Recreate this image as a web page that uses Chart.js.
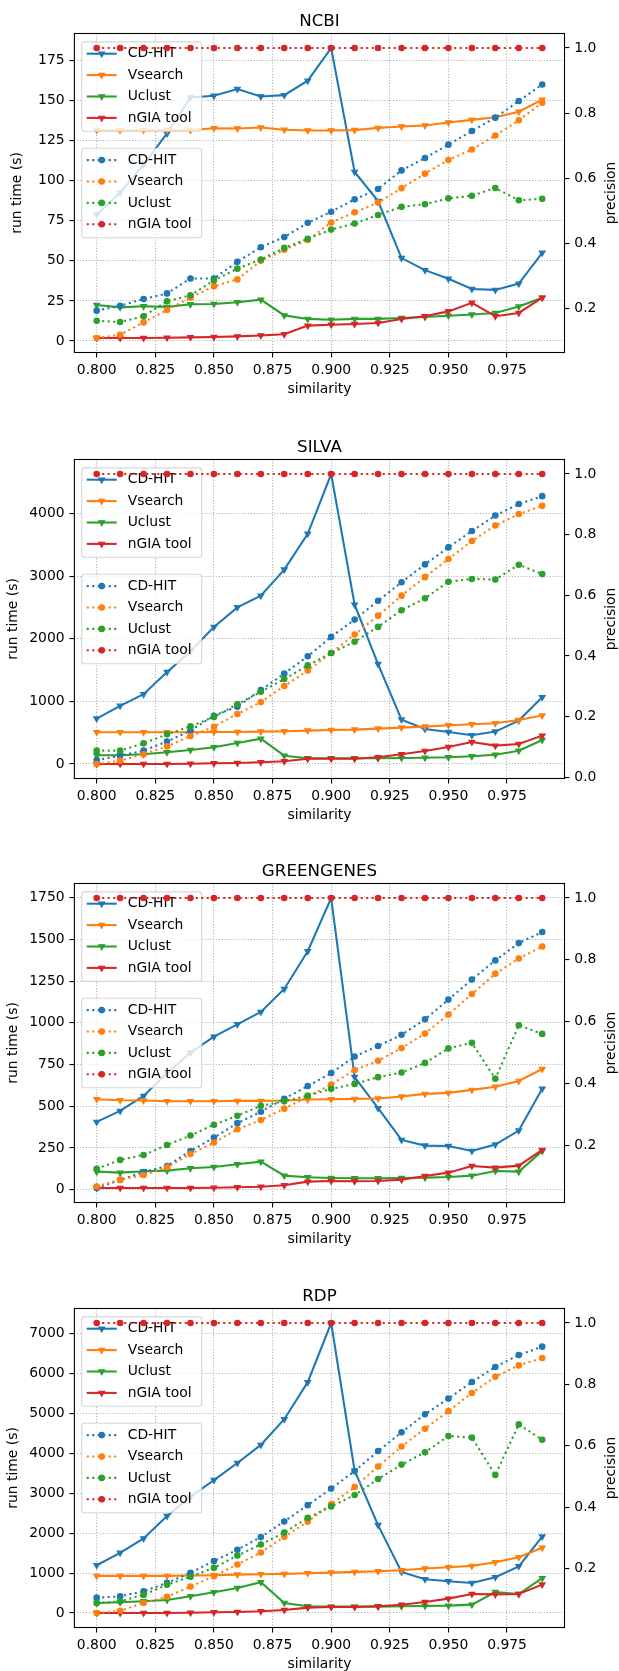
<!DOCTYPE html>
<html>
<head>
<meta charset="utf-8">
<script src="https://cdn.jsdelivr.net/npm/chart.js@4.4.1/dist/chart.umd.min.js"></script>
<style>
  body { margin: 0; background: #fff; }
  #fig { position: relative; width: 619px; height: 1671px; overflow: hidden; background: #fff; }
  #fig canvas { position: absolute; left: 0; }
</style>
</head>
<body>
<div id="fig">
  <canvas id="ncbi" width="619" height="400" style="top:0px"></canvas>
  <canvas id="silva" width="619" height="400" style="top:426px"></canvas>
  <canvas id="greengenes" width="619" height="400" style="top:850px"></canvas>
  <canvas id="rdp" width="619" height="400" style="top:1275px"></canvas>
</div>
<script>
// valores
const similarity = [0.80, 0.81, 0.82, 0.83, 0.84, 0.85, 0.86, 0.87, 0.88, 0.89,
                    0.90, 0.91, 0.92, 0.93, 0.94, 0.95, 0.96, 0.97, 0.98, 0.99];
const xTicks = [0.800, 0.825, 0.850, 0.875, 0.900, 0.925, 0.950, 0.975];
const tools = ['CD-HIT', 'Vsearch', 'Uclust', 'nGIA tool'];

// NCBI
const ncbiCdhitTime = [78.8, 92.5, 110, 129.4, 151.9, 152.9, 157.1, 152.5, 153.3, 162.3, 182.7, 105.4, 87.3, 51.7, 44.2, 38.8, 32.5, 31.9, 35.8, 55];
const ncbiVsearchTime = [131.5, 131.5, 131.5, 131.5, 131.5, 132.7, 132.5, 133.1, 131.7, 131.3, 131.3, 131.5, 132.9, 133.8, 134.4, 136.3, 137.9, 139.5, 143, 150.5];
const ncbiUclustTime = [22.5, 21, 21.7, 21.3, 22.9, 23.1, 24.2, 25.8, 16, 13.8, 13.3, 13.8, 13.8, 14.4, 15, 15.8, 16.5, 17.5, 21.5, 27];
const ncbiNgiaTime = [1.9, 1.9, 1.9, 2.1, 2.3, 2.5, 2.9, 3.5, 4.2, 9.6, 10.2, 10.6, 11.3, 13.8, 15.4, 18.5, 23.8, 15.5, 17.5, 27];
const ncbiCdhitPrec = [0.193, 0.208, 0.229, 0.246, 0.292, 0.292, 0.343, 0.388, 0.419, 0.463, 0.497, 0.535, 0.567, 0.624, 0.662, 0.703, 0.745, 0.786, 0.837, 0.888];
const ncbiVsearchPrec = [0.109, 0.119, 0.157, 0.195, 0.233, 0.268, 0.289, 0.346, 0.380, 0.410, 0.464, 0.495, 0.525, 0.569, 0.614, 0.656, 0.688, 0.731, 0.778, 0.832];
const ncbiUclustPrec = [0.162, 0.158, 0.176, 0.222, 0.240, 0.286, 0.322, 0.350, 0.386, 0.414, 0.442, 0.461, 0.487, 0.512, 0.520, 0.538, 0.546, 0.570, 0.532, 0.537];
const ncbiNgiaPrec = [1, 1, 1, 1, 1, 1, 1, 1, 1, 1, 1, 1, 1, 1, 1, 1, 1, 1, 1, 1];
const ncbiTimeTicks = [0, 25, 50, 75, 100, 125, 150, 175];
const ncbiPrecTicks = [0.2, 0.4, 0.6, 0.8, 1.0];

// SILVA
const silvaCdhitTime = [725, 928, 1115, 1467, 1800, 2187, 2501, 2688, 3104, 3675, 4630, 2544, 1595, 709, 560, 512, 459, 517, 693, 1066];
const silvaVsearchTime = [507, 507, 507, 507, 507, 512, 512, 517, 523, 533, 544, 549, 565, 581, 597, 619, 635, 650, 704, 773];
const silvaUclustTime = [139, 139, 155, 187, 224, 267, 336, 405, 133, 91, 91, 91, 91, 96, 101, 107, 123, 149, 213, 384];
const silvaNgiaTime = [0, 0, 0, 0, 5, 11, 16, 27, 43, 85, 85, 85, 107, 155, 208, 272, 352, 293, 320, 453];
const silvaCdhitPrec = [0.057, 0.071, 0.088, 0.118, 0.154, 0.203, 0.233, 0.288, 0.342, 0.399, 0.463, 0.520, 0.582, 0.643, 0.702, 0.758, 0.812, 0.863, 0.901, 0.927];
const silvaVsearchPrec = [0.044, 0.055, 0.076, 0.102, 0.136, 0.167, 0.209, 0.248, 0.301, 0.352, 0.410, 0.471, 0.533, 0.599, 0.660, 0.720, 0.779, 0.830, 0.868, 0.895];
const silvaUclustPrec = [0.088, 0.088, 0.112, 0.142, 0.168, 0.199, 0.241, 0.282, 0.324, 0.369, 0.410, 0.447, 0.496, 0.551, 0.590, 0.645, 0.654, 0.652, 0.701, 0.670];
const silvaNgiaPrec = [1, 1, 1, 1, 1, 1, 1, 1, 1, 1, 1, 1, 1, 1, 1, 1, 1, 1, 1, 1];
const silvaTimeTicks = [0, 1000, 2000, 3000, 4000];
const silvaPrecTicks = [0.0, 0.2, 0.4, 0.6, 0.8, 1.0];

// GREENGENES
const ggCdhitTime = [406, 472, 562, 699, 821, 917, 991, 1065, 1203, 1429, 1748, 675, 488, 298, 264, 262, 232, 270, 354, 605];
const ggVsearchTime = [542, 536, 534, 530, 530, 530, 532, 532, 534, 540, 542, 544, 546, 558, 574, 580, 598, 617, 651, 723];
const ggUclustTime = [108, 102, 110, 114, 128, 136, 152, 168, 84, 74, 70, 68, 68, 70, 72, 76, 84, 112, 108, 232];
const ggNgiaTime = [10, 10, 10, 10, 10, 12, 14, 18, 26, 48, 52, 50, 52, 60, 82, 102, 142, 132, 144, 238];
const ggCdhitPrec = [0.061, 0.087, 0.113, 0.132, 0.181, 0.224, 0.271, 0.308, 0.350, 0.391, 0.433, 0.487, 0.521, 0.557, 0.607, 0.671, 0.736, 0.798, 0.854, 0.890];
const ggVsearchPrec = [0.066, 0.088, 0.103, 0.128, 0.171, 0.208, 0.251, 0.281, 0.318, 0.357, 0.396, 0.443, 0.473, 0.514, 0.561, 0.623, 0.689, 0.755, 0.804, 0.843];
const ggUclustPrec = [0.123, 0.152, 0.168, 0.200, 0.231, 0.266, 0.295, 0.327, 0.342, 0.360, 0.382, 0.398, 0.420, 0.435, 0.466, 0.513, 0.531, 0.415, 0.588, 0.560];
const ggNgiaPrec = [1, 1, 1, 1, 1, 1, 1, 1, 1, 1, 1, 1, 1, 1, 1, 1, 1, 1, 1, 1];
const ggTimeTicks = [0, 250, 500, 750, 1000, 1250, 1500, 1750];
const ggPrecTicks = [0.2, 0.4, 0.6, 0.8, 1.0];

// RDP
const rdpCdhitTime = [1198, 1508, 1868, 2429, 2915, 3333, 3760, 4213, 4858, 5787, 7270, 3568, 2203, 1030, 846, 796, 754, 898, 1169, 1915];
const rdpVsearchTime = [930, 930, 930, 930, 938, 946, 963, 972, 980, 997, 1013, 1030, 1047, 1072, 1114, 1147, 1181, 1271, 1398, 1636];
const rdpUclustTime = [251, 268, 293, 327, 419, 519, 628, 771, 251, 168, 159, 159, 159, 168, 176, 184, 209, 525, 475, 873];
const rdpNgiaTime = [0, 0, 0, 0, 8, 17, 25, 42, 75, 134, 151, 151, 168, 209, 276, 360, 477, 466, 475, 712];
const rdpCdhitPrec = [0.106, 0.110, 0.127, 0.154, 0.187, 0.225, 0.262, 0.303, 0.354, 0.407, 0.461, 0.518, 0.583, 0.644, 0.703, 0.754, 0.808, 0.857, 0.896, 0.923];
const rdpVsearchPrec = [0.056, 0.063, 0.089, 0.109, 0.142, 0.176, 0.214, 0.253, 0.304, 0.353, 0.410, 0.466, 0.533, 0.598, 0.656, 0.713, 0.772, 0.825, 0.862, 0.886];
const rdpUclustPrec = [0.088, 0.094, 0.115, 0.148, 0.174, 0.203, 0.243, 0.279, 0.318, 0.366, 0.403, 0.440, 0.492, 0.539, 0.579, 0.632, 0.627, 0.505, 0.670, 0.620];
const rdpNgiaPrec = [1, 1, 1, 1, 1, 1, 1, 1, 1, 1, 1, 1, 1, 1, 1, 1, 1, 1, 1, 1];
const rdpTimeTicks = [0, 1000, 2000, 3000, 4000, 5000, 6000, 7000];
const rdpPrecTicks = [0.2, 0.4, 0.6, 0.8, 1.0];

// estilo (cores do matplotlib)
const cores = ['#1f77b4', '#ff7f0e', '#2ca02c', '#d62728'];
const FONTE = "'DejaVu Sans', sans-serif";
const LW = 2.08;
const PONTILHADO = [2.1, 3.4];
const RAIO_TRI = 3.3;
const RAIO_CIRC = 2.7;

Chart.defaults.font.family = FONTE;
Chart.defaults.font.size = 13.9;
Chart.defaults.color = '#000';

// margem de 5% como o autoscale do matplotlib
function limites(series) {
    const todos = [].concat(...series);
    const lo = Math.min(...todos), hi = Math.max(...todos);
    const pad = (hi - lo) * 0.05;
    return { min: lo - pad, max: hi + pad };
}

function desenharMarcador(ctx, tipo, cor, x, y) {
    ctx.fillStyle = cor;
    ctx.strokeStyle = cor;
    ctx.lineWidth = 1.2;
    ctx.beginPath();
    if (tipo === 'triangle') {
        const r = RAIO_TRI;
        ctx.moveTo(x, y + r);
        ctx.lineTo(x - r * 0.866, y - r / 2);
        ctx.lineTo(x + r * 0.866, y - r / 2);
        ctx.closePath();
    } else {
        ctx.arc(x, y, RAIO_CIRC, 0, Math.PI * 2);
    }
    ctx.fill();
    ctx.stroke();
}

function caminhoArredondado(ctx, x, y, w, h, r) {
    ctx.beginPath();
    ctx.moveTo(x + r, y);
    ctx.lineTo(x + w - r, y);
    ctx.arcTo(x + w, y, x + w, y + r, r);
    ctx.lineTo(x + w, y + h - r);
    ctx.arcTo(x + w, y + h, x + w - r, y + h, r);
    ctx.lineTo(x + r, y + h);
    ctx.arcTo(x, y + h, x, y + h - r, r);
    ctx.lineTo(x, y + r);
    ctx.arcTo(x, y, x + r, y, r);
    ctx.closePath();
}

// legenda desenhada dentro da área do gráfico
function desenharLegenda(chart, topo, pontilhada) {
    const ctx = chart.ctx;
    const area = chart.chartArea;
    const esq = area.left + 7.3;
    const larg = 120, alt = 89.4;
    ctx.save();
    caminhoArredondado(ctx, esq, topo, larg, alt, 2.8);
    ctx.fillStyle = 'rgba(255,255,255,0.8)';
    ctx.fill();
    ctx.lineWidth = 1.1;
    ctx.strokeStyle = 'rgba(204,204,204,0.8)';
    ctx.stroke();
    for (let k = 0; k < tools.length; k++) {
        const y = topo + 11.8 + k * 21.4;
        ctx.strokeStyle = cores[k];
        ctx.lineWidth = LW;
        ctx.setLineDash(pontilhada ? PONTILHADO : []);
        ctx.beginPath();
        ctx.moveTo(esq + 5, y);
        ctx.lineTo(esq + 35, y);
        ctx.stroke();
        ctx.setLineDash([]);
        desenharMarcador(ctx, pontilhada ? 'circle' : 'triangle', cores[k], esq + 20, y);
        ctx.fillStyle = '#000';
        ctx.font = '13.9px ' + FONTE;
        ctx.textAlign = 'left';
        ctx.textBaseline = 'middle';
        ctx.fillText(tools[k], esq + 46, y);
    }
    ctx.restore();
}

function plugDecoracao(titulo) {
    return {
        id: 'decoracao',
        afterDatasetDraw(chart, args) {
            // a primeira legenda fica entre as linhas de tempo e as de precisão
            if (args.index === 3) {
                desenharLegenda(chart, chart.chartArea.top + 8.4, false);
            }
        },
        afterDatasetsDraw(chart) {
            const a = chart.chartArea;
            desenharLegenda(chart, (a.top + a.bottom) / 2 - 44.7, true);
        },
        afterDraw(chart) {
            const ctx = chart.ctx;
            const a = chart.chartArea;
            ctx.save();
            ctx.strokeStyle = '#000';
            ctx.lineWidth = 1.1;
            ctx.strokeRect(a.left, a.top, a.right - a.left, a.bottom - a.top);
            ctx.fillStyle = '#000';
            ctx.font = '16.7px ' + FONTE;
            ctx.textAlign = 'center';
            ctx.textBaseline = 'alphabetic';
            ctx.fillText(titulo, (a.left + a.right) / 2, a.top - 7.3);
            ctx.font = '13.9px ' + FONTE;
            ctx.textBaseline = 'middle';
            ctx.translate(611.5, (a.top + a.bottom) / 2);
            ctx.rotate(-Math.PI / 2);
            ctx.fillText('precision', 0, 0);
            ctx.restore();
        }
    };
}

function plotarPainel(idCanvas, titulo, tempos, precisoes, ticksTempo, ticksPrec, padLabel) {
    const limX = limites([similarity]);
    const limT = limites(tempos);
    const limP = limites(precisoes);

    let datasets = [];
    for (let k = 0; k < tempos.length; k++) {
        datasets.push({
            label: tools[k],
            data: similarity.map((x, i) => ({ x: x, y: tempos[k][i] })),
            yAxisID: 'yTempo',
            borderColor: cores[k],
            backgroundColor: cores[k],
            borderWidth: LW,
            pointStyle: 'triangle',
            rotation: 180,
            pointRadius: RAIO_TRI,
            pointBorderWidth: 1.2,
            order: 8 - k
        });
    }
    for (let k = 0; k < precisoes.length; k++) {
        datasets.push({
            label: tools[k],
            data: similarity.map((x, i) => ({ x: x, y: precisoes[k][i] })),
            yAxisID: 'yPrec',
            borderColor: cores[k],
            backgroundColor: cores[k],
            borderWidth: LW,
            borderDash: PONTILHADO,
            pointStyle: 'circle',
            pointRadius: RAIO_CIRC,
            pointBorderWidth: 1.2,
            order: 4 - k
        });
    }

    const grade = {
        color: '#b0b0b0',
        lineWidth: 1.1,
        tickColor: '#000',
        tickLength: 4.9,
        tickWidth: 1.1,
        tickBorderDash: []
    };
    const borda = { display: false, dash: [1.1, 1.8] };

    new Chart(document.getElementById(idCanvas), {
        type: 'line',
        data: { datasets: datasets },
        options: {
            responsive: false,
            animation: false,
            events: [],
            layout: { padding: { top: 33.5, left: 0, right: 0, bottom: 0 } },
            plugins: { legend: { display: false }, tooltip: { enabled: false } },
            scales: {
                x: {
                    type: 'linear',
                    min: limX.min,
                    max: limX.max,
                    afterBuildTicks: s => { s.ticks = xTicks.map(v => ({ value: v })); },
                    afterFit: s => { s.height = 47.5; },
                    ticks: { callback: v => v.toFixed(3), autoSkip: false, maxRotation: 0, padding: 4.9 },
                    grid: grade,
                    border: borda,
                    title: { display: true, text: 'similarity', font: { size: 13.9, lineHeight: 1 }, padding: { top: 0, bottom: 3.75 } }
                },
                yTempo: {
                    type: 'linear',
                    position: 'left',
                    min: limT.min,
                    max: limT.max,
                    afterBuildTicks: s => { s.ticks = ticksTempo.map(v => ({ value: v })); },
                    afterFit: s => { s.width = 74.4; },
                    ticks: { callback: v => String(v), padding: 4.9 },
                    grid: grade,
                    border: borda,
                    title: { display: true, text: 'run time (s)', font: { size: 13.9, lineHeight: 1 }, padding: { top: padLabel, bottom: 0 } }
                },
                yPrec: {
                    type: 'linear',
                    position: 'right',
                    min: limP.min,
                    max: limP.max,
                    afterBuildTicks: s => { s.ticks = ticksPrec.map(v => ({ value: v })); },
                    afterFit: s => { s.width = 54.5; },
                    ticks: { callback: v => v.toFixed(1), padding: 4.9 },
                    grid: Object.assign({}, grade, { drawOnChartArea: false, color: '#000' }),
                    border: { display: false }
                }
            }
        },
        plugins: [plugDecoracao(titulo)]
    });
}

plotarPainel('ncbi', 'NCBI',
    [ncbiCdhitTime, ncbiVsearchTime, ncbiUclustTime, ncbiNgiaTime],
    [ncbiCdhitPrec, ncbiVsearchPrec, ncbiUclustPrec, ncbiNgiaPrec],
    ncbiTimeTicks, ncbiPrecTicks, 10);
plotarPainel('silva', 'SILVA',
    [silvaCdhitTime, silvaVsearchTime, silvaUclustTime, silvaNgiaTime],
    [silvaCdhitPrec, silvaVsearchPrec, silvaUclustPrec, silvaNgiaPrec],
    silvaTimeTicks, silvaPrecTicks, 6);
plotarPainel('greengenes', 'GREENGENES',
    [ggCdhitTime, ggVsearchTime, ggUclustTime, ggNgiaTime],
    [ggCdhitPrec, ggVsearchPrec, ggUclustPrec, ggNgiaPrec],
    ggTimeTicks, ggPrecTicks, 6);
plotarPainel('rdp', 'RDP',
    [rdpCdhitTime, rdpVsearchTime, rdpUclustTime, rdpNgiaTime],
    [rdpCdhitPrec, rdpVsearchPrec, rdpUclustPrec, rdpNgiaPrec],
    rdpTimeTicks, rdpPrecTicks, 6);
</script>
</body>
</html>
